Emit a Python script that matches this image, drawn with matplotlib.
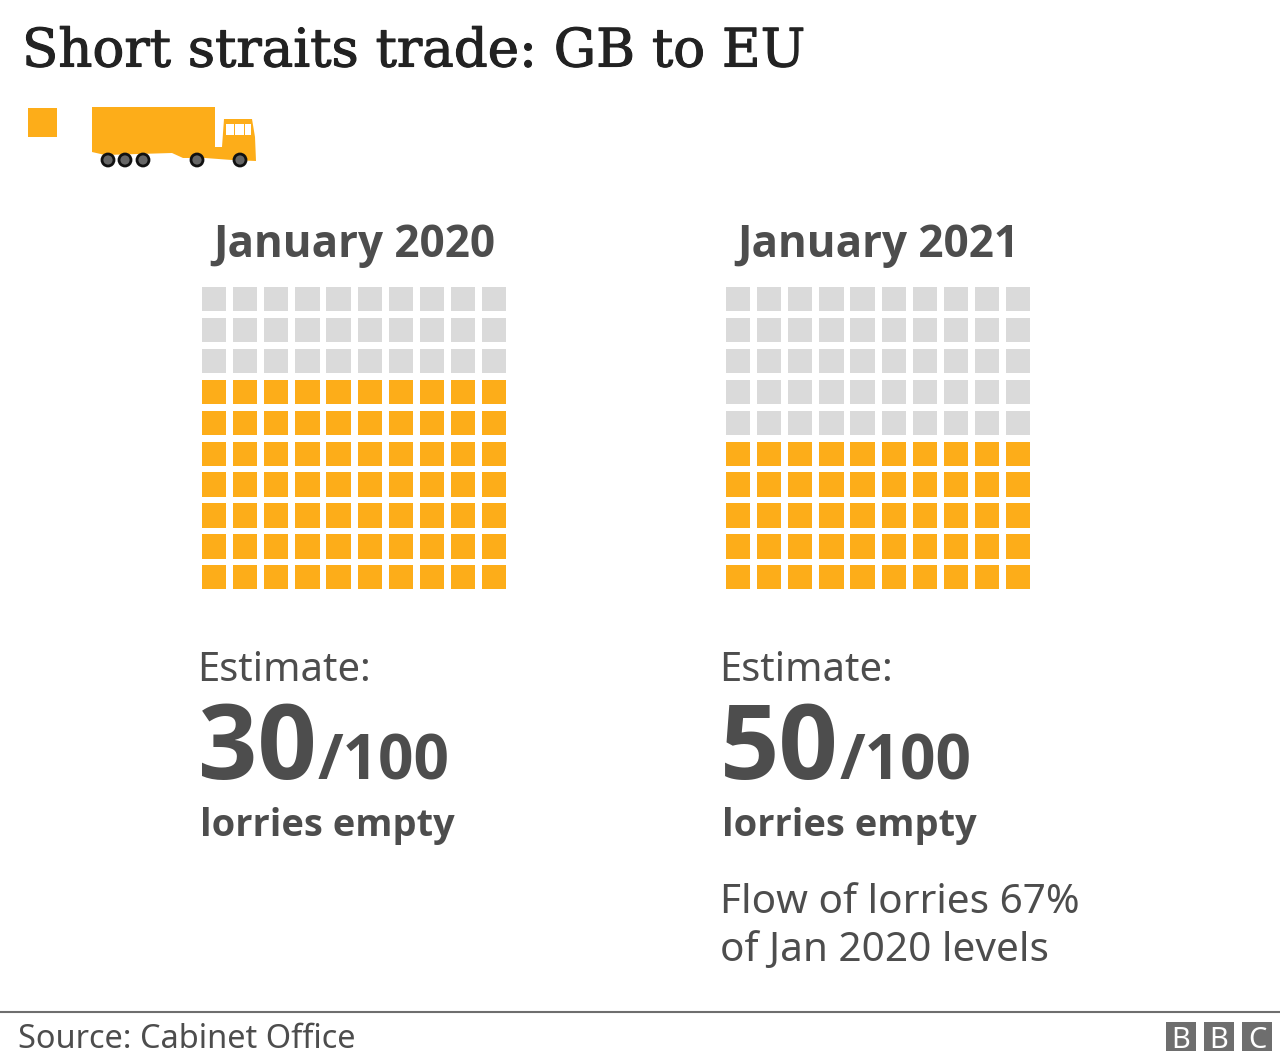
import matplotlib
matplotlib.use("Agg")
import matplotlib.pyplot as plt
from matplotlib.patches import Rectangle, Polygon, Circle
import matplotlib.patheffects as pe

periods = ["January 2020", "January 2021"]
empty_lorries = [30, 50]
total_lorries = 100
grid_size = 10
note = ["Flow of lorries 67%", "of Jan 2020 levels"]
title = "Short straits trade: GB to EU"
source = "Source: Cabinet Office"

ORANGE = "#FDAD19"
GREY = "#DADADA"
DARK = "#4D4D4D"
TITLE = "#222222"
SANS = "Noto Sans"
BOLD = "Open Sans"

fig = plt.figure(figsize=(12.8, 10.6), dpi=100, facecolor="white")
ax = fig.add_axes([0, 0, 1, 1])
ax.set_xlim(0, 1280)
ax.set_ylim(1060, 0)
ax.axis("off")


def px(size):
    return size * 0.72


ax.text(22, 52, title, family="DejaVu Serif", fontsize=px(53), color=TITLE, va="center",
        ha="left", path_effects=[pe.withStroke(linewidth=0.8, foreground=TITLE)])

# Legend key and lorry icon
ax.add_patch(Rectangle((28, 108), 29, 29, fc=ORANGE, ec="none"))
ax.add_patch(Polygon([(92, 107), (215, 107), (215, 147), (222, 147), (224, 119), (252, 119),
                      (255, 137), (256, 161), (232, 160), (205, 158), (183, 158), (172, 153),
                      (105, 155), (92, 152)], fc=ORANGE, ec="none"))
for x0, x1 in [(226, 234), (235, 244), (245, 251)]:
    ax.add_patch(Rectangle((x0, 124), x1 - x0, 11, fc="white", ec="none"))
for cx in [108, 125, 143, 197, 240]:
    ax.add_patch(Circle((cx, 160), 6, fc="#666666", ec="#111111", lw=2, zorder=3))

# Waffles and their labels
left_edges = [202, 726]
text_edges = [199, 721]
headings_x = [354.5, 878.5]
for k, period in enumerate(periods):
    ax.text(headings_x[k], 246, period, family=BOLD, fontweight="bold", fontsize=px(44),
            color=DARK, ha="center", va="center")
    n = 0
    for row in range(grid_size):
        for col in range(grid_size):
            colour = GREY if n < empty_lorries[k] else ORANGE
            ax.add_patch(Rectangle((left_edges[k] + 31.1 * col, 287 + 30.9 * row), 24.2, 24.4,
                                   fc=colour, ec="none"))
            n += 1
    tx = text_edges[k]
    ax.text(tx - 2, 671, "Estimate:", family=SANS, fontsize=px(40), color=DARK, va="center")
    ax.text(tx - 1, 752, str(empty_lorries[k]), family=BOLD, fontweight="bold", fontsize=px(104),
            color=DARK, va="center")
    ax.text(tx + 119, 763, f"/{total_lorries}", family=BOLD, fontweight="bold", fontsize=px(62),
            color=DARK, va="center")
    ax.text(tx + 1, 826, "lorries empty", family=BOLD, fontweight="bold", fontsize=px(38),
            color=DARK, va="center")

for y, line in zip([903, 951], note):
    ax.text(text_edges[1] - 1, y, line, family=SANS, fontsize=px(40.5), color=DARK, va="center")

# Footer
ax.plot([0, 1280], [1012, 1012], color="#6E6E6E", lw=1.5)
ax.text(18, 1040, source, family=SANS, fontsize=px(32.5), color=DARK, va="center")
for x0, letter in zip([1166, 1204, 1242], "BBC"):
    ax.add_patch(Rectangle((x0, 1022), 30, 29, fc="#6E6E6E", ec="none"))
    ax.text(x0 + 15, 1036.5, letter, family=SANS, fontsize=px(29), color="white",
            ha="center", va="center_baseline")

fig.savefig("out.png", dpi=100, facecolor="white")
